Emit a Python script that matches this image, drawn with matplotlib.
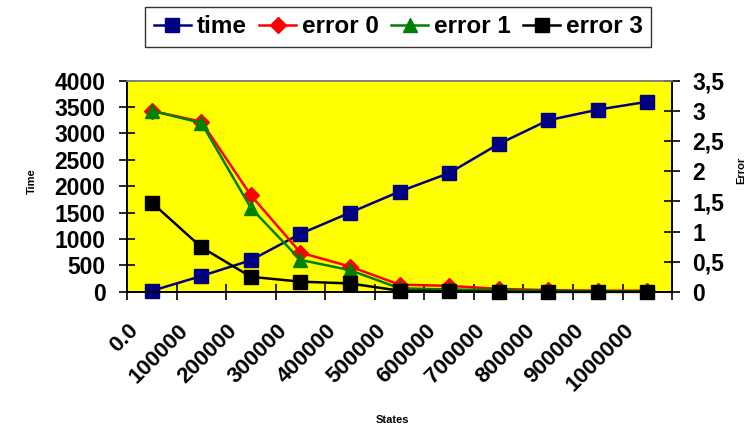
import matplotlib
matplotlib.use("Agg")
import matplotlib.pyplot as plt
from matplotlib.ticker import FuncFormatter, FixedLocator
from matplotlib.transforms import ScaledTranslation
import numpy as np

categories = ["0.0", "100000", "200000", "300000", "400000", "500000",
              "600000", "700000", "800000", "900000", "1000000"]
time_vals = [20, 300, 600, 1100, 1500, 1900, 2250, 2800, 3250, 3450, 3600]
error0 = [3.0, 2.82, 1.60, 0.65, 0.42, 0.12, 0.10, 0.05, 0.03, 0.02, 0.02]
error1 = [3.0, 2.80, 1.39, 0.53, 0.36, 0.06, 0.04, 0.03, 0.02, 0.01, 0.01]
error3 = [1.48, 0.74, 0.25, 0.17, 0.14, 0.02, 0.01, 0.0, 0.0, 0.0, 0.0]

plt.rcParams['font.family'] = ['Liberation Sans', 'DejaVu Sans']
plt.rcParams['font.weight'] = 'bold'

fig = plt.figure(figsize=(7.56, 4.28), dpi=100)
ax = fig.add_axes([0.168, 0.318, 0.721, 0.4936])
ax.set_facecolor('#FFFF00')
x = np.arange(len(categories))

l1, = ax.plot(x, time_vals, color='#000080', marker='s', markersize=9.5,
              linewidth=1.8, label='time', clip_on=False, zorder=3)
ax.set_xlim(-0.5, len(categories) - 0.5)
ax.set_ylim(0, 4000)
ax.set_yticks(np.arange(0, 4001, 500))

ax2 = ax.twinx()
l2, = ax2.plot(x, error0, color='#FF0000', marker='D', markersize=8.5,
               linewidth=1.8, label='error 0', clip_on=False)
l3, = ax2.plot(x, error1, color='#008000', marker='^', markersize=10,
               linewidth=1.8, label='error 1', clip_on=False)
l4, = ax2.plot(x, error3, color='#000000', marker='s', markersize=9.5,
               linewidth=1.8, label='error 3', clip_on=False)
ax2.set_ylim(0, 3.5)
ax2.set_yticks(np.arange(0, 3.51, 0.5))
ax2.yaxis.set_major_formatter(FuncFormatter(
    lambda v, p: ('%g' % v).replace('.', ',')))

for a in (ax, ax2):
    for s in ('left', 'right', 'bottom'):
        a.spines[s].set_color('black')
        a.spines[s].set_linewidth(1.2)
    a.spines['top'].set_color('#808080')
    a.spines['top'].set_linewidth(1.2)

ax.set_xticks(x)
ax.set_xticklabels(categories, rotation=45, ha='right', va='top',
                   rotation_mode='anchor', fontsize=16, fontweight='bold')
ax.tick_params(axis='x', which='major', length=0, pad=0)
offset = ScaledTranslation(-0.24, -0.28, fig.dpi_scale_trans)
for lab in ax.get_xticklabels():
    lab.set_transform(lab.get_transform() + offset)
ax.xaxis.set_minor_locator(FixedLocator(np.arange(-0.5, len(categories), 1.0)))
ax.tick_params(axis='x', which='minor', direction='inout', length=11, width=1.2)
ax.tick_params(axis='y', direction='inout', length=12, width=1.2,
               labelsize=16.5, pad=9.5)
ax2.tick_params(axis='y', direction='inout', length=12, width=1.2,
                labelsize=16.5, pad=8.5)
for lab in ax.get_yticklabels() + ax2.get_yticklabels():
    lab.set_fontweight('bold')

fig.text(0.042, 0.577, 'Time', rotation=90, ha='center', va='center',
         fontsize=8, fontweight='bold')
fig.text(0.981, 0.603, 'Error', rotation=90, ha='center', va='center',
         fontsize=8, fontweight='bold')
fig.text(0.519, 0.018, 'States', ha='center', va='center',
         fontsize=8, fontweight='bold')

leg = fig.legend(handles=[l1, l2, l3, l4], loc='center',
                 bbox_to_anchor=(0.527, 0.937), ncol=4, frameon=True,
                 fancybox=False, edgecolor='black',
                 handlelength=1.52, handletextpad=0.25, columnspacing=0.5,
                 borderpad=0.35, borderaxespad=0,
                 prop={'weight': 'bold', 'size': 17.5})
leg.get_frame().set_linewidth(1.0)

fig.savefig('out.png', dpi=100, facecolor='white')
